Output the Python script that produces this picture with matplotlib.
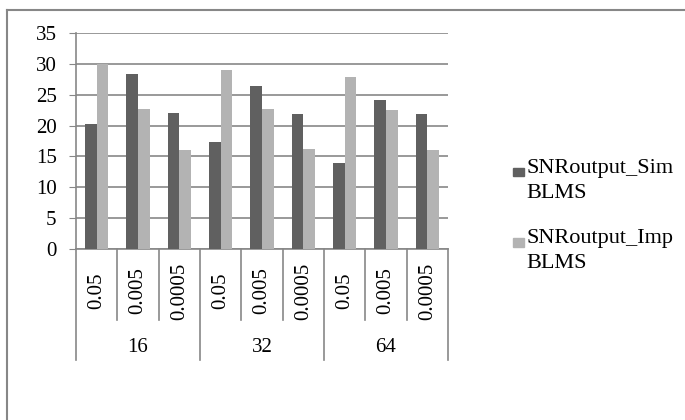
import matplotlib
matplotlib.use("Agg")
import matplotlib.pyplot as plt
from matplotlib.patches import Rectangle
from matplotlib.lines import Line2D
import numpy as np

groups = ["16", "32", "64"]
steps = ["0.05", "0.005", "0.0005"]
series_names = ["SNRoutput_Sim\nBLMS", "SNRoutput_Imp\nBLMS"]
sim_blms = [20.3, 28.4, 22.0, 17.3, 26.4, 21.9, 14.0, 24.1, 21.8]
imp_blms = [30.0, 22.7, 16.1, 29.0, 22.7, 16.2, 27.9, 22.5, 16.1]
colors = ["#606060", "#b3b3b3"]
yticks = [0, 5, 10, 15, 20, 25, 30, 35]

plt.rcParams['font.family'] = ['Liberation Serif', 'DejaVu Serif']
W, H = 685, 420
fig = plt.figure(figsize=(W / 100, H / 100), dpi=100)
grid_c = "#878787"

# outer frame (top and left visible)
fig.add_artist(Line2D([7 / W, 1.0], [1 - 9.5 / H, 1 - 9.5 / H], color=grid_c, lw=1.5))
fig.add_artist(Line2D([7 / W, 7 / W], [0, 1 - 9.5 / H], color=grid_c, lw=1.5))

x0, x1, yb, yt = 76, 448, 249, 33
ax = fig.add_axes([x0 / W, 1 - yb / H, (x1 - x0) / W, (yb - yt) / H])

n = len(sim_blms)
x = np.arange(n)
bw = 0.28
ax.bar(x - bw / 2, sim_blms, bw, color=colors[0], zorder=3)
ax.bar(x + bw / 2, imp_blms, bw, color=colors[1], zorder=3)

ax.set_xlim(-0.5, n - 0.5)
ax.set_ylim(0, 35)
ax.set_yticks(yticks)
ax.tick_params(axis='y', length=5, color=grid_c, labelsize=15, pad=9)
ax.set_xticks([])
ax.yaxis.grid(True, color=grid_c, lw=1.2, zorder=0)
for s in ["top", "right"]:
    ax.spines[s].set_visible(False)
for s in ["left", "bottom"]:
    ax.spines[s].set_color(grid_c)
    ax.spines[s].set_linewidth(1.2)

ah = yb - yt
trans = ax.get_xaxis_transform()
inner_bottom = -(320 - yb) / ah
group_bottom = -(360 - yb) / ah
for k in range(n + 1):
    xb = k - 0.5
    yl = group_bottom if k % 3 == 0 else inner_bottom
    ax.add_line(Line2D([xb, xb], [0, yl], transform=trans, color=grid_c, lw=1.2, clip_on=False))
for i in range(n):
    ax.text(i, -(291 - yb) / ah, steps[i % 3], transform=trans, rotation=90,
            ha='center', va='center', fontsize=15)
for g, name in enumerate(groups):
    ax.text(3 * g + 1, -(348 - yb) / ah, name, transform=trans,
            ha='center', va='center', fontsize=15)

# legend
leg = [(159, 167.5), (229, 238)]
for name, c, (ty, sy) in zip(series_names, colors, leg):
    fig.add_artist(Rectangle((513 / W, 1 - (sy + 8.5) / H), 10.5 / W, 8.5 / H,
                             color=c, transform=fig.transFigure))
    fig.text(526 / W, 1 - ty / H, name, ha='left', va='top',
             fontsize=16, linespacing=1.45)

fig.savefig("out.png", dpi=100)
